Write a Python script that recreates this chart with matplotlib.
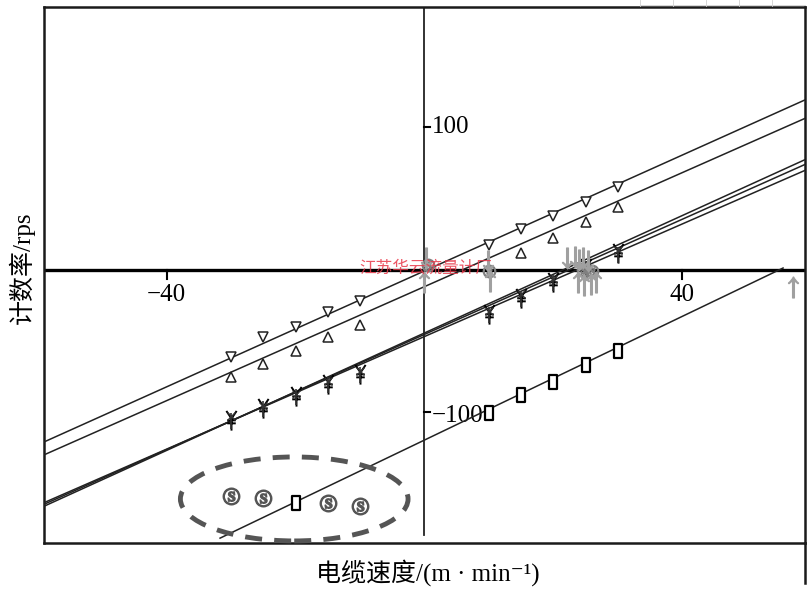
import numpy as np
import matplotlib
matplotlib.use('Agg')
import matplotlib.pyplot as plt
from matplotlib.patches import Ellipse
from matplotlib.lines import Line2D
from matplotlib.path import Path

plt.rcParams['font.family'] = ['Liberation Serif', 'Noto Sans CJK SC', 'DejaVu Sans']
plt.rcParams['mathtext.fontset'] = 'stix'

# ---------------- data ----------------
speed = [-30, -25, -20, -15, -10, 10, 15, 20, 25, 30]
tri_down_y = [-61.2, -47.5, -40.1, -29.6, -21.9, 17.2, 28.2, 37.5, 47.5, 58.1]
tri_up_x = [-30, -25, -20, -15, -10, 15, 20, 25, 30]
tri_up_y = [-75.6, -66.5, -57.3, -47.1, -38.6, 11.5, 22.1, 33.0, 43.5]
star_a_y = [-104.5, -96.5, -88.0, -79.5, -72.5, -30.5, -19.0, -8.0, 2.0, 12.0]
star_b_y = [-103.0, -95.5, -87.0, -78.5, -71.5, -29.0, -17.5, -6.5, 3.5, 13.5]
star_c_y = [-106.0, -98.0, -89.5, -81.0, -74.0, -32.0, -20.5, -9.5, 0.5, 10.5]
square_x = [-20, 10, 15, 20, 25, 30]
square_y = [-164.0, -100.6, -88.0, -78.9, -67.0, -57.2]
circ_x = [-30, -25, -15, -10]
circ_y = [-158.6, -160.0, -164.0, -165.6]
arrow_dn_x = [0.2, 9.8, 22.1, 23.3, 24.0, 24.6, 25.4]
arrow_dn_y = [8, 6, 8, 9, 7, 8, 6]
arrow_up_x = [0.0, 10.2, 23.8, 24.8, 25.8, 26.6, 57.2]
arrow_up_y = [-9, -8, -9, -11, -10, -9, -12]
zero_circ_x = [0.5, 10.0, 24.5, 26.0]
zero_circ_y = [3, -1, 0, -1]

# linear fits (slope, intercept)
fit_tri_down = (2.033, -1.0)
fit_tri_up = (2.0, -12.0)
fit_star_a = (2.02, -45.5)
fit_star_b = (1.975, -47.0)
fit_star_c = (2.06, -44.5)
fit_square = (2.17, -119.6)
square_line_range = (-31.7, 55.6)

xticks = [-40, 40]
xtick_labels = ['\u221240', '40']
yticks = [100, -100]
ytick_labels = ['100', '\u2212100']
xlim = (-59.0, 59.0)
ylim = (-191.8, 184.1)

# ---------------- figure ----------------
W, H = 811, 597
fig = plt.figure(figsize=(W / 100, H / 100), dpi=100)
ax = fig.add_axes([44 / W, 54 / H, 761 / W, 536 / H])
ax.set_xlim(*xlim)
ax.set_ylim(*ylim)
ax.set_xticks([])
ax.set_yticks([])
for sp in ax.spines.values():
    sp.set_linewidth(1.8)
    sp.set_color('#1a1a1a')

ax.axhline(0, color='black', lw=2.4, zorder=2)
ax.axvline(0, ymin=8 / 536, ymax=1, color='#222222', lw=1.3, zorder=2)

for t, lab in zip(xticks, xtick_labels):
    ax.plot([t, t], [0, -7], color='black', lw=1.5, zorder=2)
    ax.text(t, -17.9, lab, ha='center', va='center', fontsize=18)
for t, lab in zip(yticks, ytick_labels):
    ax.plot([0, 0.8], [t, t], color='black', lw=1.5, zorder=2)
    ax.text(1.2, t - (3 if t < 0 else 0), lab, ha='left', va='center', fontsize=18)

xs = np.linspace(xlim[0], xlim[1], 200)
lc = '#222222'
for (m, b) in [fit_tri_down, fit_tri_up, fit_star_a, fit_star_b, fit_star_c]:
    ax.plot(xs, m * xs + b, color=lc, lw=1.1, zorder=3)
xs_sq = np.linspace(square_line_range[0], square_line_range[1], 100)
ax.plot(xs_sq, fit_square[0] * xs_sq + fit_square[1], color=lc, lw=1.1, zorder=3)

# markers
ax.plot(speed, tri_down_y, ls='none', marker='v', ms=7, mfc='white', mec='#222222', mew=1.1, zorder=4)
ax.plot(tri_up_x, tri_up_y, ls='none', marker='^', ms=7, mfc='white', mec='#222222', mew=1.1, zorder=4)

yen = Path([(-0.6, 1.0), (0, 0.1), (0.6, 1.0), (0, 0.1), (0, -1.3),
            (-0.5, -0.1), (0.5, -0.1), (-0.5, -0.45), (0.5, -0.45)],
           [Path.MOVETO, Path.LINETO, Path.LINETO, Path.MOVETO, Path.LINETO,
            Path.MOVETO, Path.LINETO, Path.MOVETO, Path.LINETO])
ax.plot(speed, star_a_y, ls='none', marker=yen, ms=16, mfc='none', mec='black', mew=1.4, zorder=4)
ax.plot(speed, star_b_y, ls='none', marker='x', ms=6, mec='#333333', mew=1.0, zorder=4)
ax.plot(speed, star_c_y, ls='none', marker='|', ms=12, mec='#333333', mew=1.2, zorder=4)

rect = Path([(-0.55, -1), (0.55, -1), (0.55, 1), (-0.55, 1), (-0.55, -1)],
            [Path.MOVETO, Path.LINETO, Path.LINETO, Path.LINETO, Path.CLOSEPOLY])
ax.plot(square_x, square_y, ls='none', marker=rect, ms=10, mfc='white', mec='black', mew=1.6, zorder=4)

ax.plot(circ_x, circ_y, ls='none', marker='$\\circledS$', ms=12, color='#555555', zorder=4)
ax.plot(zero_circ_x, zero_circ_y, ls='none', marker='$\\circledS$', ms=9, color='#808080', zorder=4)
ax.plot(arrow_dn_x, arrow_dn_y, ls='none', marker='$\\downarrow$', ms=15, color='#a0a0a0', zorder=4)
ax.plot(arrow_up_x, arrow_up_y, ls='none', marker='$\\uparrow$', ms=15, color='#a0a0a0', zorder=4)

ell = Ellipse((-20.2, -160.9), 35.3, 58.9, fill=False, edgecolor='#555555',
              lw=3.5, ls=(0, (3.5, 2.5)), zorder=5, clip_on=False)
ax.add_patch(ell)

# watermark
ax.text(0.2, 1.0, '江苏华云流量计厂', ha='center', va='center', fontsize=12,
        color='#e8394a', alpha=0.85, family=['Noto Sans CJK SC'], zorder=6)

# axis labels
fig.text(22 / W, 1 - 268 / H, '计数率/rps', rotation=90, ha='center', va='center', fontsize=18)
fig.text(428 / W, 1 - 573 / H, '电缆速度/(m · min\u207b\u00b9)', ha='center', va='center', fontsize=18)

# scan artifacts at the figure edges
for px in [640, 673, 706, 739, 772]:
    fig.add_artist(Line2D([px / W, px / W], [1, 1 - 6 / H], color='#d0d0d0', lw=0.6))
fig.add_artist(Line2D([640 / W, 805 / W], [1 - 5 / H, 1 - 5 / H], color='#d0d0d0', lw=0.6))
fig.add_artist(Line2D([805 / W, 805 / W], [1 - 543 / H, 1 - 583 / H], color='#1a1a1a', lw=1.8))

fig.savefig('out.png', dpi=100)
